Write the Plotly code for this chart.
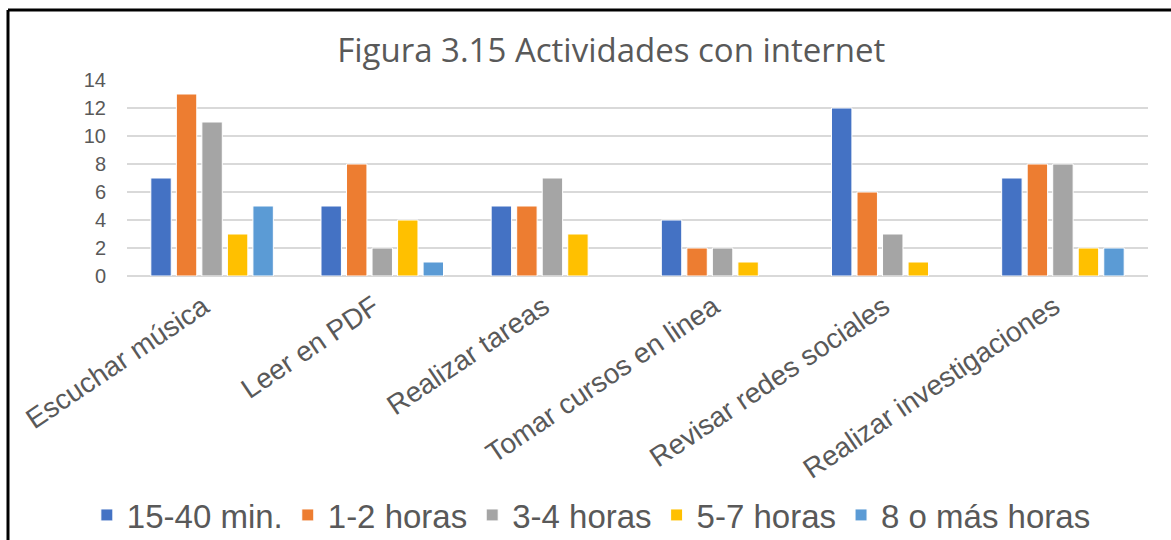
import plotly.graph_objects as go

categories = ["Escuchar música", "Leer en PDF", "Realizar tareas",
              "Tomar cursos en linea", "Revisar redes sociales", "Realizar investigaciones"]
series_names = ["15-40 min.", "1-2 horas", "3-4 horas", "5-7 horas", "8 o más horas"]
v_15_40 = [7, 5, 5, 4, 12, 7]
v_1_2 = [13, 8, 5, 2, 6, 8]
v_3_4 = [11, 2, 7, 2, 3, 8]
v_5_7 = [3, 4, 3, 1, 1, 2]
v_8_mas = [5, 1, None, None, None, 2]
colors = ["#4472C4", "#ED7D31", "#A5A5A5", "#FFC000", "#5B9BD5"]
y_ticks = [0, 2, 4, 6, 8, 10, 12, 14]

fig = go.Figure()
for name, vals, col in zip(series_names, [v_15_40, v_1_2, v_3_4, v_5_7, v_8_mas], colors):
    fig.add_trace(go.Bar(x=categories, y=vals, name=name,
                         marker=dict(color=col, line=dict(color="white", width=1))))

W, H = 1171, 540
L, R, T, B = 127, 23, 80, 264
pw, ph = W - L - R, H - T - B

def px_x(p):
    return (p - L) / pw

def px_y(p):
    return (H - B - p) / ph

fig.update_layout(
    width=W, height=H,
    margin=dict(l=L, r=R, t=T, b=B, autoexpand=False),
    paper_bgcolor="white", plot_bgcolor="white",
    barmode="group", bargap=0.25, bargroupgap=0.2,
    title=dict(text="Figura 3.15 Actividades con internet", x=0.522, xref="container", xanchor="center",
               y=(H - 50) / H, yref="container", yanchor="middle",
               font=dict(family="Open Sans", size=33, color="#595959")),
    font=dict(family="Liberation Sans", color="#595959"),
    xaxis=dict(tickangle=-34, tickfont=dict(size=28, color="#595959"),
               showline=False, ticks="", showgrid=False, automargin=False,
               ticklabelstandoff=8, ticklabelshift=-9),
    yaxis=dict(range=[0, 14], tickvals=y_ticks, tickfont=dict(size=20, color="#595959"),
               showgrid=True, gridcolor="#D9D9D9", gridwidth=1.5,
               zeroline=True, zerolinecolor="#D9D9D9", zerolinewidth=1.5,
               showline=False, ticks="", automargin=False, ticklabelstandoff=20),
    legend=dict(orientation="h", xref="container", x=0.505, xanchor="center",
                yref="container", y=(H - 515) / H, yanchor="middle",
                font=dict(size=33, color="#595959"), itemwidth=30, traceorder="normal"),
    showlegend=True,
    shapes=[
        dict(type="line", xref="paper", yref="paper", x0=px_x(8), x1=px_x(W + 5),
             y0=px_y(10), y1=px_y(10), line=dict(color="black", width=3)),
        dict(type="line", xref="paper", yref="paper", x0=px_x(8), x1=px_x(8),
             y0=px_y(10), y1=px_y(H + 5), line=dict(color="black", width=3)),
    ],
)

fig.write_html("out.html", config={"displayModeBar": False},
               post_script="document.body.style.margin='0px';")
